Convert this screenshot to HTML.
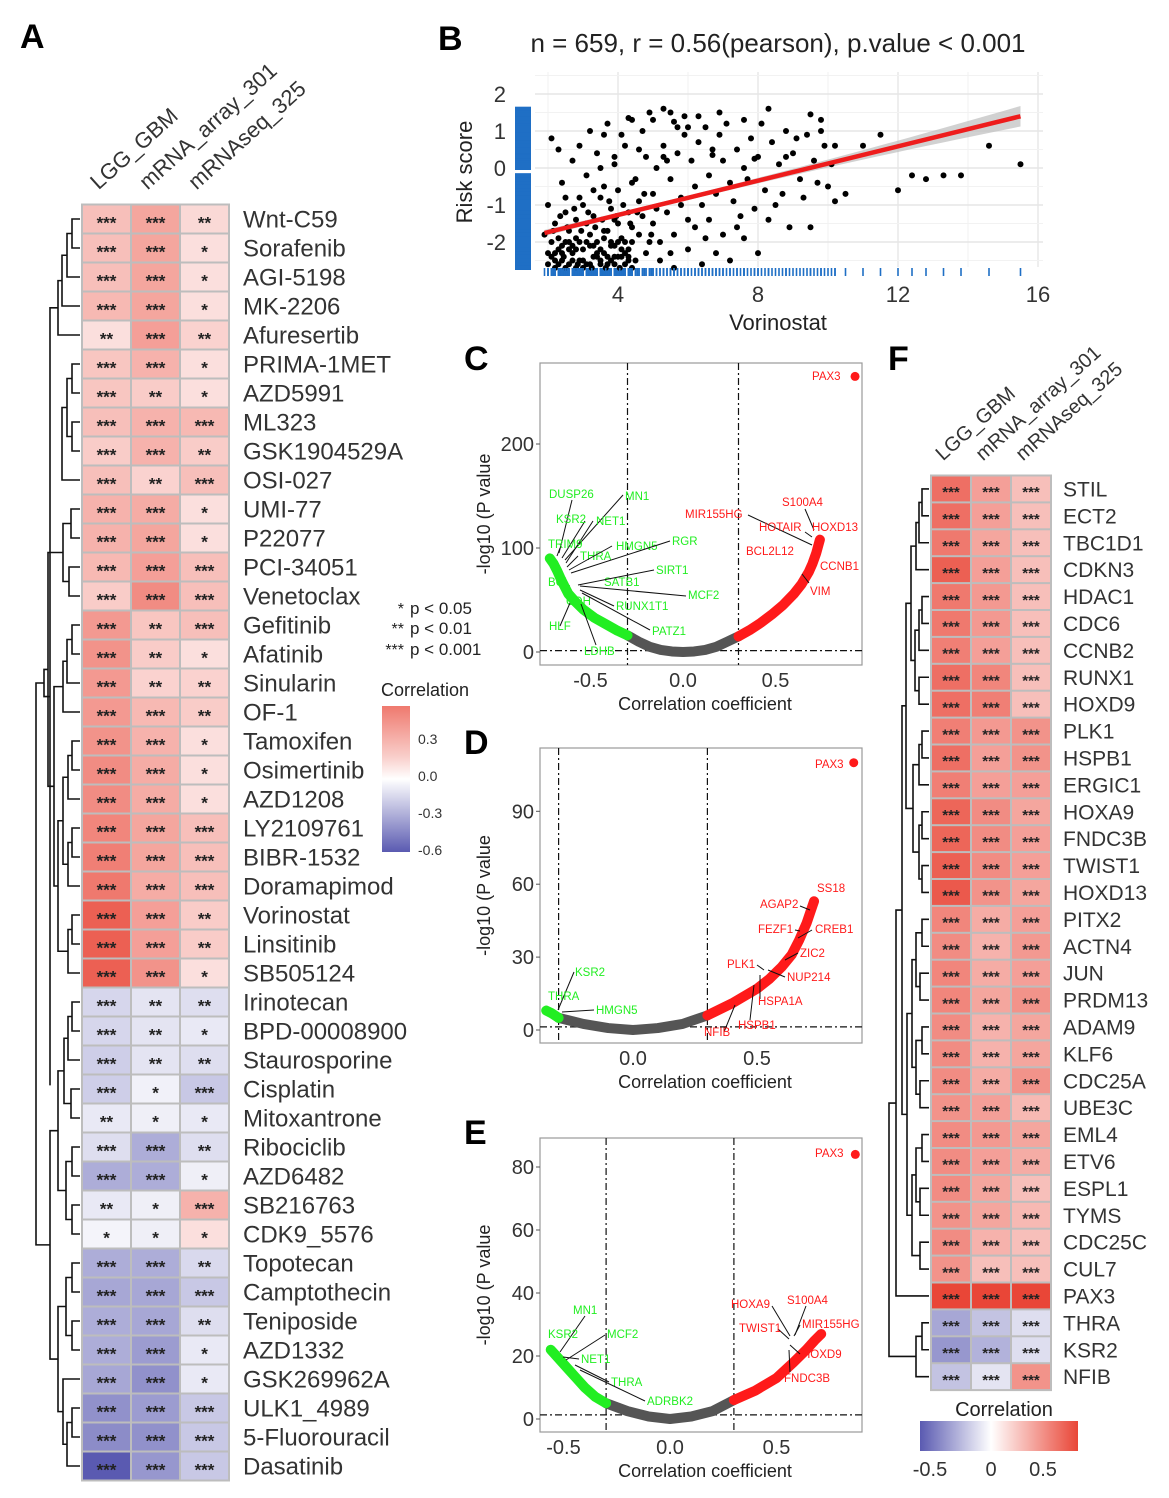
<!DOCTYPE html>
<html><head><meta charset="utf-8">
<style>
html,body{margin:0;padding:0;background:#fff}
svg{display:block;font-family:"Liberation Sans",Arial,sans-serif}
</style></head>
<body>
<svg id="fig" width="1169" height="1498" viewBox="0 0 1169 1498" xmlns="http://www.w3.org/2000/svg">
<text x="20" y="48" font-size="34" font-weight="bold">A</text>
<text x="438" y="50" font-size="34" font-weight="bold">B</text>
<text x="464" y="370" font-size="34" font-weight="bold">C</text>
<text x="464" y="754" font-size="34" font-weight="bold">D</text>
<text x="464" y="1144" font-size="34" font-weight="bold">E</text>
<text x="888" y="370" font-size="34" font-weight="bold">F</text>
</svg>
<script>
// ===== Panel A data =====
const drugsA = ["Wnt-C59","Sorafenib","AGI-5198","MK-2206","Afuresertib","PRIMA-1MET","AZD5991","ML323","GSK1904529A","OSI-027","UMI-77","P22077","PCI-34051","Venetoclax","Gefitinib","Afatinib","Sinularin","OF-1","Tamoxifen","Osimertinib","AZD1208","LY2109761","BIBR-1532","Doramapimod","Vorinostat","Linsitinib","SB505124","Irinotecan","BPD-00008900","Staurosporine","Cisplatin","Mitoxantrone","Ribociclib","AZD6482","SB216763","CDK9_5576","Topotecan","Camptothecin","Teniposide","AZD1332","GSK269962A","ULK1_4989","5-Fluorouracil","Dasatinib"];
const corrA_lgg = [.2,.2,.2,.22,.1,.18,.18,.2,.16,.2,.24,.24,.22,.16,.32,.34,.32,.32,.34,.36,.36,.38,.4,.42,.5,.5,.5,-.15,-.15,-.18,-.18,-.08,-.12,-.3,-.08,-.04,-.3,-.32,-.3,-.3,-.32,-.4,-.42,-.6];
const corrA_arr = [.28,.28,.28,.28,.3,.24,.16,.24,.24,.14,.26,.28,.3,.36,.18,.16,.14,.22,.24,.26,.26,.28,.28,.26,.3,.3,.34,-.1,-.1,-.1,-.05,-.06,-.3,-.3,-.06,-.06,-.3,-.32,-.32,-.36,-.4,-.36,-.4,-.38];
const corrA_seq = [.12,.1,.1,.1,.14,.1,.1,.22,.16,.2,.1,.1,.2,.2,.2,.1,.14,.16,.1,.1,.1,.2,.2,.2,.16,.16,.1,-.12,-.08,-.12,-.2,-.08,-.12,-.06,.24,.1,-.14,-.2,-.12,-.08,-.08,-.2,-.2,-.2];
const starsA_lgg = ["***","***","***","***","**","***","***","***","***","***","***","***","***","***","***","***","***","***","***","***","***","***","***","***","***","***","***","***","***","***","***","**","***","***","**","*","***","***","***","***","***","***","***","***"];
const starsA_arr = ["***","***","***","***","***","***","**","***","***","**","***","***","***","***","**","**","**","***","***","***","***","***","***","***","***","***","***","**","**","**","*","*","***","***","*","*","***","***","***","***","***","***","***","***"];
const starsA_seq = ["**","*","*","*","**","*","*","***","**","***","*","*","***","***","***","*","**","**","*","*","*","***","***","***","**","**","*","**","*","**","***","*","**","*","***","*","**","***","**","*","*","***","***","***"];
const colsA = ["LGG_GBM","mRNA_array_301","mRNAseq_325"];
const treeA = [[[[[[[0,1,72],2,67],3,62],4,58],[[[[5,6,72],[7,8,72],67],9,62],52],50],[[[10,11,71],[12,13,69],63],[[[[14,15,72],16,67],17,63],[[[[18,19,72],20,68],[[21,22,72],23,68],63],[[24,25,72],26,68],58],54],48],44],[[[[[27,28,72],29,68],[30,31,71],64],[[32,33,72],[34,35,72],66],58],[[[36,37,72],[38,39,72],66],[40,[[41,42,72],43,67],63],58],50],36];

// ===== Panel F data =====
const genesF = ["STIL","ECT2","TBC1D1","CDKN3","HDAC1","CDC6","CCNB2","RUNX1","HOXD9","PLK1","HSPB1","ERGIC1","HOXA9","FNDC3B","TWIST1","HOXD13","PITX2","ACTN4","JUN","PRDM13","ADAM9","KLF6","CDC25A","UBE3C","EML4","ETV6","ESPL1","TYMS","CDC25C","CUL7","PAX3","THRA","KSR2","NFIB"];
const corrF_lgg = [.45,.45,.42,.5,.42,.42,.4,.45,.45,.4,.45,.4,.48,.48,.5,.52,.38,.36,.38,.38,.36,.36,.36,.34,.36,.36,.36,.34,.36,.34,.6,-.32,-.38,-.22];
const corrF_arr = [.3,.3,.28,.3,.32,.32,.3,.38,.4,.32,.3,.3,.36,.36,.36,.34,.26,.24,.26,.28,.24,.24,.26,.3,.32,.3,.28,.28,.24,.2,.6,-.22,-.28,-.1];
const corrF_seq = [.2,.2,.2,.2,.2,.2,.2,.2,.2,.34,.34,.3,.28,.3,.3,.28,.3,.32,.3,.34,.28,.28,.34,.22,.28,.26,.2,.22,.2,.2,.62,-.12,-.12,.34];
const starsF = "***";
const colsF = ["LGG_GBM","mRNA_array_301","mRNAseq_325"];
const treeF = [[[[[[[[0,1,922],2,919],3,916],[[[4,5,922],6,919],[7,8,919],915],911],[[[9,10,922],11,919],[[12,13,922],[14,15,922],919],913],906],[[[[16,17,922],[18,19,920],916],[[20,21,922],[22,23,920],916],912],[[[24,25,922],[26,27,920],916],[28,29,920],912],907],902],30,896],[[31,32,922],33,916],889];

// ===== Panel B data =====
const scatterX = [2,2.1,2.2,2.3,2.4,2.5,2.6,2.7,2.8,2.9,3.0,3.1,3.2,3.3,3.4,3.5,3.6,3.7,3.8,3.9,4.0,4.1,4.2,4.3,4.4,4.5,2.2,2.5,2.8,3.0,3.3,3.5,3.8,4.0,4.3,4.6,2.4,2.7,3.1,3.4,3.6,3.9,4.2,4.5,4.8,2.3,2.1,3.2,3.7,4.1,4.4,4.7,5.0,5.5,6.0,4.6,4.8,5.0,5.2,5.4,5.6,5.8,6.0,6.2,6.4,6.6,6.8,7.0,7.2,7.4,7.6,7.8,8.0,8.2,8.4,8.6,8.8,9.0,9.2,9.4,9.6,9.8,10.0,10.2,5.1,5.3,5.5,5.7,5.9,6.1,6.3,6.5,6.7,6.9,7.1,7.3,7.5,7.7,7.9,8.1,8.3,8.5,8.7,8.9,9.1,9.3,9.5,9.7,9.9,10.1,5.2,5.6,6.0,6.4,6.8,7.2,7.6,8.0,5.0,5.4,5.8,6.2,6.6,7.0,4.9,5.3,5.7,6.3,2.0,1.9,2.6,2.9,3.3,3.6,3.9,4.2,4.4,4.7,12.4,12.8,13.3,13.8,12.0,14.6,15.5,11.0,10.5,3.0,3.5,3.2,2.6,4.0,3.7,2.3,2.8,3.1,4.1,4.4,5.5,6.5,7.4,3.5,2.9,4.6,5.1,2.5,2.4,3.4,3.8,2.7,4.3,3.6,2.2,3.9,4.9,
 2.0,2.1,2.2,2.3,2.4,2.5,2.6,2.7,2.8,2.9,3.0,3.1,3.2,3.3,3.4,3.5,3.6,3.7,3.8,3.9,4.0,4.1,4.2,4.3,4.4,
 2.15,2.35,2.55,2.75,2.95,3.15,3.35,3.55,3.75,3.95,4.15,4.35,4.55,4.75,4.95,2.45,2.85,3.25,3.65,4.05,
 5.3,6.7,7.9,8.8,5.9,6.9,7.6,9.5,8.3,5.6,4.3,3.9,9.8,10.2,11.5];
const scatterY = [-2.6,-2.4,-2.7,-2.2,-2.5,-2.0,-2.6,-2.3,-1.9,-2.5,-2.2,-2.6,-1.8,-2.4,-2.0,-2.6,-2.3,-1.7,-2.5,-2.1,-2.4,-1.9,-2.6,-2.2,-1.6,-2.5,-1.5,-1.2,-1.4,-1.0,-1.3,-0.8,-1.1,-0.6,-1.2,-0.9,-0.4,0.2,-0.2,0.4,-0.5,0.1,0.6,-0.3,0.3,0.5,0.8,1.0,1.2,0.9,1.3,1.0,1.3,1.5,1.1,-1.8,-2.3,-1.5,-2.0,-1.2,-1.8,-0.8,-1.4,-0.5,-1.0,-0.2,-0.7,0.2,-0.4,0.5,0.0,0.8,0.3,-0.6,0.7,0.1,1.0,0.4,-0.3,0.9,0.2,1.3,-0.5,-0.9,0.0,0.6,-0.3,0.4,0.9,0.2,0.7,1.1,0.5,0.9,1.2,-0.9,-1.3,-0.3,-1.1,1.2,-1.4,-1.0,-0.7,-1.6,0.8,-0.8,-1.6,-0.4,0.6,0.1,-2.5,-2.7,-2.2,-2.6,-2.3,-2.5,-1.9,-2.3,-0.7,0.2,-1.0,-1.6,-1.4,-1.8,1.5,1.6,1.1,1.4,-1.0,-1.8,-1.7,-0.8,-0.6,0.9,-1.4,-2.0,-0.4,-1.3,-0.2,-0.3,-0.2,-0.2,-0.6,0.6,0.1,0.6,-0.7,-2.7,-2.5,-2.1,-2.2,-1.5,-2.6,-1.9,-2.7,-1.5,-2.2,-2.7,-2.3,-1.9,-1.6,0.0,0.6,0.5,-1.1,-0.8,-2.3,-2.3,-2.0,-2.1,-2.4,-1.7,-2.3,-2.4,-2.0,
 -2.3,-2.0,-2.5,-2.6,-2.1,-2.7,-2.0,-2.5,-2.2,-2.0,-2.5,-2.0,-2.6,-2.1,-2.4,-2.2,-1.9,-2.4,-2.1,-2.6,-2.0,-2.4,-2.3,-2.5,-2.0,
 -1.7,-1.3,-1.6,-1.1,-1.7,-1.2,-1.6,-1.4,-0.9,-1.3,-1.0,-1.5,-1.2,-0.7,-1.8,-2.4,-2.6,-2.7,-2.7,-2.7,
 0.3,0.35,0.25,0.3,1.4,1.5,1.3,1.45,1.6,1.25,1.35,0.3,1.0,0.6,0.9];
const bXTicks = [4,8,12,16];
const bYTicks = [2,1,0,-1,-2];

// ===== Volcano data =====
const cGreenR = [-0.72,-0.70,-0.68,-0.66,-0.64,-0.62,-0.58,-0.54,-0.48,-0.42,-0.36,-0.30];
const cGreenP = [90,85,78,70,63,56,48,41,33,27,21,16];
const cGrayR = [-0.30,-0.24,-0.18,-0.12,-0.06,0,0.06,0.12,0.18,0.24,0.30];
const cGrayP = [16,10,5,2,0.5,0,0.5,2,5,10,15];
const cRedR = [0.30,0.36,0.42,0.48,0.54,0.60,0.64,0.68,0.70,0.72,0.74];
const cRedP = [15,21,28,36,45,56,65,77,85,95,108];
const cPax = [0.93,265];
const cYTicks = [0,100,200], cXTicks = [-0.5,0,0.5];

const dGreenR = [-0.35,-0.33,-0.30];
const dGreenP = [8,7,5];
const dGrayR = [-0.30,-0.2,-0.1,0,0.1,0.2,0.30];
const dGrayP = [5,2.5,0.8,0,0.8,2.5,6];
const dRedR = [0.30,0.40,0.50,0.55,0.60,0.64,0.67,0.70,0.72,0.73];
const dRedP = [6,11,17,21,26,31,37,44,50,53];
const dPax = [0.89,110];
const dYTicks = [0,30,60,90], dXTicks = [0,0.5];

const eGreenR = [-0.56,-0.52,-0.48,-0.44,-0.40,-0.35,-0.30];
const eGreenP = [22,19,16,13,10,7,5];
const eGrayR = [-0.30,-0.2,-0.1,0,0.1,0.2,0.30];
const eGrayP = [5,2.5,0.8,0,0.8,2.5,6];
const eRedR = [0.30,0.40,0.50,0.58,0.64,0.68,0.71];
const eRedP = [6,9,13,18,22,25,27];
const ePax = [0.87,84];
const eYTicks = [0,20,40,60,80], eXTicks = [-0.5,0,0.5];

// ===== helpers =====
const NS = "http://www.w3.org/2000/svg";
const svg = document.getElementById('fig');
function mk(tag, attrs, parent) {
  const e = document.createElementNS(NS, tag);
  for (const k in attrs) e.setAttribute(k, attrs[k]);
  (parent || svg).appendChild(e);
  return e;
}
function txt(s, attrs, parent) { const t = mk('text', attrs, parent); t.textContent = s; return t; }
function colr(v) {
  if (v >= 0) { const t = Math.min(v / 0.58, 1); return `rgb(${Math.round(255 - t*22)},${Math.round(255 - t*185)},${Math.round(255 - t*200)})`; }
  const t = Math.min(-v / 0.6, 1); return `rgb(${Math.round(255 - t*165)},${Math.round(255 - t*165)},${Math.round(255 - t*78)})`;
}

// ===== Heatmap renderer =====
function heatmap(opts) {
  const g = mk('g', {});
  
  
  const n = opts.labels.length;
  const cy = i => opts.top + opts.rh * (i + 0.5);
  const bd = mk('rect', {x: opts.left - 1, y: opts.top - 1, width: opts.cw*3 + 2, height: opts.rh*n + 2, fill: '#bdbdbd'}, g);
  
  
  for (let i = 0; i < n; i++) {
    for (let c = 0; c < 3; c++) {
      const v = opts.vals[c][i];
      const r = mk('rect', {x: opts.left + c*opts.cw + 1, y: opts.top + i*opts.rh + 1, width: opts.cw - 2, height: opts.rh - 2, fill: colr(v)}, g);
      
      
      const st = txt(opts.stars[c][i], {x: opts.left + (c+0.5)*opts.cw, y: cy(i) + opts.sfs*0.55, 'font-size': opts.sfs, 'text-anchor': 'middle', fill: '#222', 'font-weight': 'bold'}, g);
      
      
    }
    const lb = txt(opts.labels[i], {x: opts.left + opts.cw*3 + opts.lgap, y: cy(i) + opts.fs*0.36, 'font-size': opts.fs, fill: '#333'}, g);
    
    
  }
  function dd(node) {
    if (typeof node === 'number') return {y: cy(node), x: opts.leafX};
    const a = dd(node[0]), b = dd(node[1]), h = node[2];
    const p = mk('path', {d: `M${a.x},${a.y}H${h}V${b.y}H${b.x}`, fill: 'none', stroke: '#111', 'stroke-width': 1.6}, g);
    
    
    return {y: (a.y + b.y)/2, x: h};
  }
  dd(opts.tree);
  for (let c = 0; c < 3; c++) {
    const hx = opts.left + (c+0.5)*opts.cw - opts.hoff, hy = opts.top - 14;
    const h = txt(opts.cols[c], {x: hx, y: hy, 'font-size': opts.hfs, fill: '#333', transform: `rotate(-42 ${hx} ${hy})`}, g);
    
    
  }
}
heatmap({name: 'heatmap-a', labels: drugsA, vals: [corrA_lgg, corrA_arr, corrA_seq], stars: [starsA_lgg, starsA_arr, starsA_seq], cols: colsA, tree: treeA, left: 82, top: 204.5, cw: 49, rh: 29, fs: 24, sfs: 17, lgap: 14, leafX: 80, hfs: 22, hoff: 8});
heatmap({name: 'heatmap-f', labels: genesF, vals: [corrF_lgg, corrF_arr, corrF_seq], stars: [genesF.map(()=>starsF), genesF.map(()=>starsF), genesF.map(()=>starsF)], cols: colsF, tree: treeF, left: 931, top: 475.5, cw: 40, rh: 26.9, fs: 21, sfs: 15, lgap: 12, leafX: 929, hfs: 20, hoff: 8});

// ===== Legends =====
const defs = mk('defs', {});
const lgA = mk('linearGradient', {id: 'gA', x1: 0, y1: 0, x2: 0, y2: 1}, defs);
[[0, .42],[0.35, .15],[0.5, 0],[0.75,-.3],[1,-.6]].forEach(s => mk('stop', {offset: s[0], 'stop-color': colr(s[1])}, lgA));
const lgF = mk('linearGradient', {id: 'gF', x1: 0, y1: 0, x2: 1, y2: 0}, defs);
[[0, -.6],[0.45, 0],[1, .6]].forEach(s => mk('stop', {offset: s[0], 'stop-color': colr(s[1])}, lgF));
const lt = txt('Correlation', {x: 381, y: 696, 'font-size': 18, fill: '#222'});


const lb1 = mk('rect', {x: 382, y: 706, width: 28, height: 146, fill: 'url(#gA)'});


[['0.3',744],['0.0',781],['-0.3',818],['-0.6',855]].forEach(t => {
  const e = txt(t[0], {x: 418, y: t[1], 'font-size': 14, fill: '#333'});
  
  
});
[['*','p < 0.05',614],['**','p < 0.01',634],['***','p < 0.001',655]].forEach(t => {
  const s = txt(t[0], {x: 404, y: t[2], 'font-size': 16, 'text-anchor': 'end', fill: '#222'});
  
  
  const l = txt(t[1], {x: 410, y: t[2], 'font-size': 17, fill: '#222'});
  
  
});
const ltf = txt('Correlation', {x: 1004, y: 1416, 'font-size': 20, 'text-anchor': 'middle', fill: '#222'});


const lbf = mk('rect', {x: 920, y: 1421, width: 158, height: 30, fill: 'url(#gF)'});


[['-0.5',930],['0',991],['0.5',1043]].forEach(t => {
  const e = txt(t[0], {x: t[1], y: 1476, 'font-size': 20, 'text-anchor': 'middle', fill: '#333'});
  
  
});

// ===== Panel B scatter =====
const bx = v => 618 + (v - 4) * 35;
const by = v => 168 - v * 37;
const bg = mk('g', {});


const bbg = mk('rect', {x: 535, y: 72, width: 508, height: 195, fill: '#fff'}, bg);


for (let v = 2; v <= 16; v += 2) {
  const gl = mk('line', {x1: bx(v), x2: bx(v), y1: 72, y2: 267, stroke: v % 4 === 0 ? '#e6e6e6' : '#f2f2f2', 'stroke-width': v % 4 === 0 ? 1.4 : 1}, bg);
  
  
}
for (let v = -2.5; v <= 2.5; v += 0.5) {
  const gl = mk('line', {x1: 535, x2: 1043, y1: by(v), y2: by(v), stroke: Number.isInteger(v) ? '#e6e6e6' : '#f2f2f2', 'stroke-width': Number.isInteger(v) ? 1.4 : 1}, bg);
  
  
}
const nB = scatterX.length;
const mx = scatterX.reduce((a,b)=>a+b,0)/nB, my = scatterY.reduce((a,b)=>a+b,0)/nB;
let sxy = 0, sxx = 0;
for (let i = 0; i < nB; i++) { sxy += (scatterX[i]-mx)*(scatterY[i]-my); sxx += (scatterX[i]-mx)**2; }
const slope = sxy/sxx, icpt = my - slope*mx;
const xmin = Math.min(...scatterX), xmax = Math.max(...scatterX);
const hw = x => 0.06 + 0.35 * (x - mx)**2 / sxx * 10;
let up = [], dn = [];
for (let k = 0; k <= 30; k++) { const x = xmin + (xmax - xmin)*k/30; up.push(`${bx(x)},${by(icpt+slope*x+hw(x))}`); dn.unshift(`${bx(x)},${by(icpt+slope*x-hw(x))}`); }
const band = mk('polygon', {points: up.concat(dn).join(' '), fill: '#bdbdbd', opacity: 0.7}, bg);


for (let i = 0; i < nB; i++) {
  const p = mk('circle', {cx: bx(scatterX[i]), cy: by(scatterY[i]), r: 3, fill: '#000'}, bg);
  
  
  const rx = mk('line', {x1: bx(scatterX[i]), x2: bx(scatterX[i]), y1: 268, y2: 276, stroke: '#1f6fc5', 'stroke-width': 1.6}, bg);
  
  
  const ry = mk('line', {x1: 515, x2: 531, y1: by(scatterY[i]), y2: by(scatterY[i]), stroke: '#1f6fc5', 'stroke-width': 4}, bg);
  
  
}
const fit = mk('line', {x1: bx(xmin), y1: by(icpt+slope*xmin), x2: bx(xmax), y2: by(icpt+slope*xmax), stroke: '#ee1c1c', 'stroke-width': 4.5}, bg);


bXTicks.forEach(v => {
  const t = txt(String(v), {x: bx(v), y: 302, 'font-size': 22, 'text-anchor': 'middle', fill: '#333'}, bg);
  
  
});
bYTicks.forEach(v => {
  const t = txt(String(v), {x: 506, y: by(v) + 8, 'font-size': 22, 'text-anchor': 'end', fill: '#333'}, bg);
  
  
});
const bt = txt('n = 659, r = 0.56(pearson), p.value < 0.001', {x: 778, y: 52, 'font-size': 26, 'text-anchor': 'middle', fill: '#222'}, bg);


const bxl = txt('Vorinostat', {x: 778, y: 330, 'font-size': 22, 'text-anchor': 'middle', fill: '#222'}, bg);


const byl = txt('Risk score', {x: 472, y: 172, 'font-size': 22, 'text-anchor': 'middle', fill: '#222', transform: 'rotate(-90 472 172)'}, bg);



// ===== Volcano renderer =====
function volcano(o) {
  const g = mk('g', {});
  
  
  const X = r => o.x0 + r * o.xs, Y = p => o.y0 - p * o.ys;
  const fr = mk('rect', {x: o.L, y: o.T, width: o.R - o.L, height: o.B - o.T, fill: '#fff', stroke: '#9a9a9a', 'stroke-width': 1.2}, g);
  
  
  [-0.3, 0.3].forEach(v => {
    const l = mk('line', {x1: X(v), x2: X(v), y1: o.T, y2: o.B, stroke: '#111', 'stroke-width': 1.2, 'stroke-dasharray': '7 3 2 3'}, g);
    
    
  });
  const hl = mk('line', {x1: o.L, x2: o.R, y1: Y(1.3), y2: Y(1.3), stroke: '#111', 'stroke-width': 1.2, 'stroke-dasharray': '7 3 2 3'}, g);
  
  
  [[o.grR, o.grP, '#555555', 'nonsignificant-genes'], [o.gR, o.gP, '#22ee22', 'negative-genes'], [o.rR, o.rP, '#ff1a1a', 'positive-genes']].forEach(s => {
    const pts = s[0].map((r, i) => `${X(r)},${Y(s[1][i])}`).join(' ');
    const pl = mk('polyline', {points: pts, fill: 'none', stroke: s[2], 'stroke-width': 10, 'stroke-linecap': 'round', 'stroke-linejoin': 'round'}, g);
    
    
  });
  const px = mk('circle', {cx: X(o.pax[0]), cy: Y(o.pax[1]), r: 4.5, fill: '#ff1a1a'}, g);
  
  
  o.labs.forEach(l => {
    if (l[3] != null) {
      const ln = mk('line', {x1: l[3], y1: l[4], x2: l[5], y2: l[6], stroke: '#111', 'stroke-width': 1}, g);
      
      
    }
    const t = txt(l[0], {x: l[1], y: l[2], 'font-size': 11.5, fill: l[7] || '#22ee22'}, g);
    
    
  });
  o.yt.forEach(v => {
    const t = txt(String(v), {x: o.L - 6, y: Y(v) + 7, 'font-size': 20, 'text-anchor': 'end', fill: '#333'}, g);
    
    
    const tk = mk('line', {x1: o.L - 4, x2: o.L, y1: Y(v), y2: Y(v), stroke: '#555'}, g);
    
    
  });
  o.xt.forEach(v => {
    const t = txt(v.toFixed(1), {x: X(v), y: o.B + 22, 'font-size': 20, 'text-anchor': 'middle', fill: '#333'}, g);
    
    
  });
  const xl = txt('Correlation coefficient', {x: 705, y: o.B + 45, 'font-size': 18, 'text-anchor': 'middle', fill: '#222'}, g);
  
  
  const yc = (o.T + o.B) / 2;
  const yl = txt('-log10 (P value', {x: 490, y: yc, 'font-size': 18, 'text-anchor': 'middle', fill: '#222', transform: `rotate(-90 490 ${yc})`}, g);
  
  
}
const R = '#ff1a1a';
volcano({name: 'volcano-c', L: 540, R: 862, T: 363, B: 665, x0: 683, xs: 185, y0: 652, ys: 1.04,
  gR: cGreenR, gP: cGreenP, grR: cGrayR, grP: cGrayP, rR: cRedR, rP: cRedP, pax: cPax, yt: cYTicks, xt: cXTicks,
  labs: [['DUSP26',549,498,572,500,559,553],['MN1',625,500,623,495,565,560],['KSR2',556,523,585,521,562,558],['NET1',596,525,593,521,566,563],['TRIM9',548,548,560,548,557,556],['THRA',580,560,578,556,567,567],['HMGN5',616,550,612,546,569,570],['RGR',672,545,670,541,571,573],['BCL',548,586,null],['SATB1',604,586,null],['SIRT1',656,574,654,570,578,585],['MCF2',688,599,686,596,580,586],['CDH',566,605,null],['RUNX1T1',616,610,614,606,580,590],['HLF',549,630,560,626,570,603],['PATZ1',652,635,650,630,582,593],['LDHB',584,655,596,645,581,604],
    ['MIR155HG',685,518,748,515,812,545,R],['S100A4',782,506,805,509,814,530,R],['HOTAIR',759,531,805,532,812,537,R],['HOXD13',812,531,null,0,0,0,R],['BCL2L12',746,555,null,0,0,0,R],['CCNB1',820,570,null,0,0,0,R],['VIM',810,595,809,583,802,574,R],['PAX3',812,380,null,0,0,0,R]]});
volcano({name: 'volcano-d', L: 540, R: 862, T: 748, B: 1043, x0: 633, xs: 248, y0: 1030, ys: 2.43,
  gR: dGreenR, gP: dGreenP, grR: dGrayR, grP: dGrayP, rR: dRedR, rP: dRedP, pax: dPax, yt: dYTicks, xt: dXTicks,
  labs: [['KSR2',575,976,574,972,558,1010],['THRA',548,1000,null],['HMGN5',596,1014,594,1010,562,1012],
    ['AGAP2',760,908,800,906,810,910,R],['SS18',817,892,null,0,0,0,R],['FEZF1',758,933,795,930,800,931,R],['CREB1',815,933,812,930,798,938,R],['ZIC2',800,957,798,953,785,960,R],['PLK1',727,968,757,965,764,970,R],['NUP214',787,981,785,977,768,970,R],['HSPA1A',758,1005,760,999,760,975,R],['NFIB',704,1036,724,1032,735,1005,R],['HSPB1',738,1029,750,1020,754,985,R],['PAX3',815,768,null,0,0,0,R]]});
volcano({name: 'volcano-e', L: 540, R: 862, T: 1138, B: 1432, x0: 670, xs: 213, y0: 1419, ys: 3.15,
  gR: eGreenR, gP: eGreenP, grR: eGrayR, grP: eGrayP, rR: eRedR, rP: eRedP, pax: ePax, yt: eYTicks, xt: eXTicks,
  labs: [['MN1',573,1314,585,1316,560,1352],['KSR2',548,1338,null],['MCF2',607,1338,605,1335,566,1360],['NET1',581,1363,579,1359,563,1357],['THRA',611,1386,609,1382,575,1365],['ADRBK2',647,1405,645,1401,580,1370],
    ['HOXA9',731,1308,772,1306,790,1336,R],['S100A4',787,1304,806,1306,795,1335,R],['TWIST1',739,1332,778,1329,789,1339,R],['MIR155HG',802,1328,800,1325,794,1336,R],['HOXD9',802,1358,800,1354,790,1345,R],['FNDC3B',784,1382,790,1372,789,1350,R],['PAX3',815,1157,null,0,0,0,R]]});
</script>
</body></html>
